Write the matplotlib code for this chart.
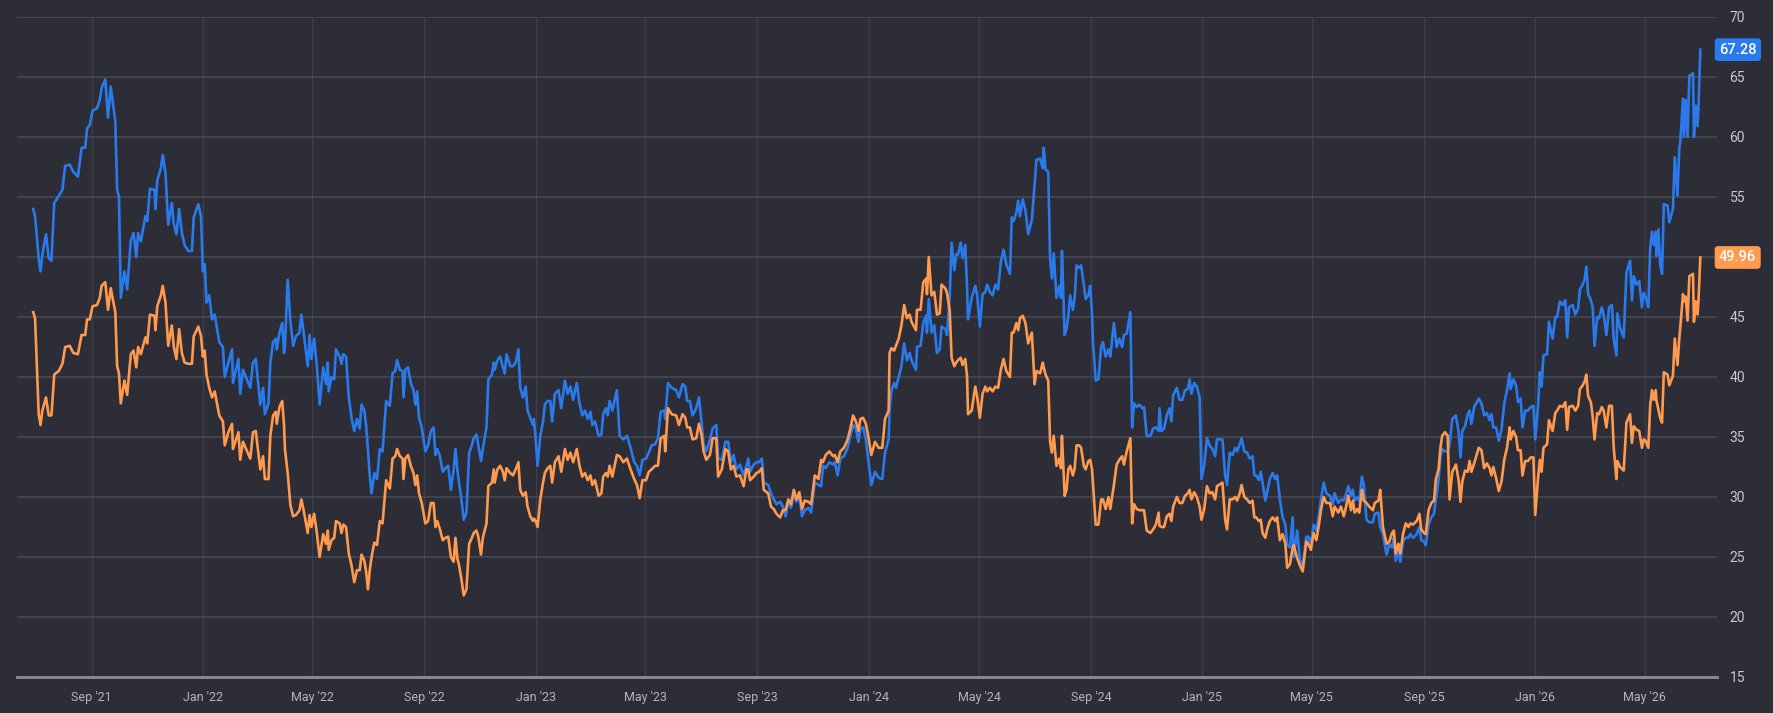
import matplotlib
matplotlib.use("Agg")
import matplotlib.pyplot as plt
import matplotlib.dates as mdates
import pandas as pd

# days counted from the first point of the chart
start = pd.Timestamp("2021-06-29")

day_offset = [
    0, 2, 6, 8, 10, 14, 17, 20, 23, 28,
    32, 35, 40, 44, 49, 53, 57, 59, 62, 65,
    70, 73, 75, 79, 82, 85, 90, 92, 94, 96,
    100, 103, 107, 110, 113, 115, 118, 123, 125, 128,
    133, 134, 136, 140, 142, 145, 148, 152, 154, 157,
    160, 163, 166, 170, 174, 176, 181, 184, 186, 188,
    190, 193, 196, 199, 204, 208, 210, 214, 218, 219,
    225, 227, 230, 238, 241, 244,
    249, 252, 254, 258, 260, 263, 266, 267, 270, 273,
    275, 276, 279, 282, 285, 288, 292, 294, 297, 301,
    303, 305, 308, 311, 314, 318, 321, 323, 324, 327,
    330, 332, 336, 338, 340, 343, 346, 349, 352, 355,
    358, 360, 363, 365, 367, 369, 371, 374, 377, 380,
    383, 387, 391, 394, 397, 399, 402, 405, 406, 408,
    411, 414, 417, 419, 421, 423, 426, 430, 433, 436,
    439, 441, 443, 446, 449, 452, 455, 458, 461, 463,
    465, 467, 470, 472, 475, 478, 481, 483, 486, 488,
    491, 493, 497, 499, 503, 505, 506, 509,
    512, 515, 517, 519, 523, 526, 529, 532, 534, 537,
    540, 542, 545, 548, 549, 551, 553, 556, 559, 561,
    564, 567, 569, 572, 576, 579, 583, 586, 589, 592,
    596, 599, 602, 605, 608, 611, 613, 616, 620, 623,
    625, 628, 630, 632, 635, 640, 643, 647, 651, 655,
    659, 662, 665, 668, 672, 675, 678, 682, 685, 688,
    692, 693, 696, 700, 705, 708, 712, 715, 717, 720,
    723, 727, 730, 733, 735, 738, 742, 745, 749, 751,
    755, 759, 762, 765, 768, 771,
    775, 779, 782, 784, 786, 790, 793, 796, 799, 801,
    806, 809, 812, 815, 819, 822, 825, 828, 831, 834,
    837, 840, 843, 846, 850, 853, 857, 861, 864, 866,
    869, 873, 877, 879, 882, 885, 889, 893, 896, 899,
    902, 905, 907, 910, 913, 916, 919, 923, 927, 931,
    934, 938, 939, 941, 944, 946, 949, 952, 955, 958,
    961, 963, 968, 969, 973, 976, 979, 980, 982, 985,
    988, 991, 994, 996, 1000, 1002, 1005, 1007, 1010, 1012,
    1014, 1017, 1019, 1022, 1024, 1025, 1029, 1033, 1035,
    1038, 1041, 1044, 1046, 1049, 1052, 1055, 1058, 1061, 1064,
    1067, 1071, 1073, 1075, 1078, 1080, 1082, 1085, 1088, 1091,
    1095, 1098, 1100, 1104, 1107, 1108, 1110, 1113, 1115, 1117,
    1119, 1122, 1125, 1127, 1128, 1131, 1133, 1135, 1137, 1140,
    1142, 1144, 1147, 1149, 1152, 1154, 1157, 1159, 1161, 1162,
    1165, 1168, 1171, 1173, 1176, 1179, 1181, 1185, 1188, 1191,
    1194, 1196, 1199, 1203, 1205, 1207, 1210, 1213, 1216, 1218,
    1221, 1225, 1228, 1231, 1234, 1235, 1237, 1240, 1243, 1246,
    1248, 1250, 1254, 1257, 1260, 1263, 1266, 1268, 1270, 1273,
    1276, 1279, 1281, 1284, 1287, 1290, 1293, 1296, 1298,
    1304, 1307, 1309, 1312, 1315, 1318, 1320, 1323, 1325, 1328,
    1331, 1334, 1337, 1339, 1341, 1344, 1346, 1348, 1351, 1353,
    1356, 1359, 1362, 1364, 1367, 1370, 1373, 1375, 1378, 1381,
    1382, 1386, 1389, 1392, 1396, 1398, 1401, 1404, 1407, 1410,
    1412, 1415, 1418, 1422, 1425, 1427, 1431, 1434, 1437, 1439,
    1442, 1445, 1447, 1449, 1452, 1454, 1457, 1459, 1462, 1465,
    1469, 1471, 1475, 1477, 1480, 1484, 1487, 1490, 1492, 1494,
    1497, 1499, 1502, 1505, 1508, 1510, 1513, 1517, 1520, 1522,
    1525, 1527, 1530, 1533, 1536, 1538, 1541, 1543, 1545, 1548,
    1551, 1553, 1556, 1560, 1563,
    1565, 1567, 1570, 1573, 1575, 1577, 1580, 1583, 1585, 1588,
    1591, 1594, 1597, 1599, 1601, 1604, 1607, 1610, 1613, 1616,
    1619, 1620, 1623, 1626, 1628, 1631, 1633, 1636, 1639, 1642,
    1645, 1647, 1650, 1652, 1654, 1656, 1660, 1662, 1666, 1669,
    1671, 1674, 1677, 1680, 1682, 1684, 1688, 1691, 1694, 1696,
    1699, 1701, 1703, 1705, 1708, 1710, 1712, 1715, 1717, 1720,
    1722, 1725, 1728, 1731, 1733, 1736, 1737, 1740, 1744, 1747,
    1751, 1753, 1755, 1758, 1761, 1764, 1766, 1768, 1771, 1773,
    1775, 1777, 1779, 1780, 1782, 1784, 1786, 1788, 1792, 1794,
    1798, 1800, 1803, 1805, 1806, 1809, 1810, 1812, 1814, 1816,
    1820, 1821, 1823, 1825, 1826, 1828,
]

blue_vals = [
    54.0, 53.4, 49.9, 48.8, 50.2, 51.9, 49.9, 49.7, 54.5, 55.1,
    55.6, 57.6, 57.7, 57.1, 56.7, 59.1, 59.1, 60.7, 61.0, 62.2,
    62.4, 63.1, 64.1, 64.8, 61.6, 64.2, 61.3, 55.6, 55.0, 46.6,
    48.8, 47.3, 51.4, 52.0, 50.0, 52.0, 51.3, 53.4, 53.0, 55.7,
    55.6, 54.0, 56.4, 57.4, 58.5, 57.0, 52.7, 54.5, 52.8, 51.9,
    54.0, 52.0, 51.0, 50.5, 50.5, 53.3, 54.4, 53.4, 48.8, 49.4,
    46.2, 46.8, 44.8, 45.2, 42.9, 42.5, 40.0, 41.2, 42.3, 39.5,
    41.5, 38.6, 40.6, 39.1, 41.2, 41.5,
    37.7, 39.1, 36.9, 37.8, 41.2, 42.9, 43.2, 42.3, 43.7, 44.5,
    42.0, 42.5, 48.1, 44.6, 42.6, 43.4, 43.7, 45.2, 43.4, 40.9,
    43.5, 41.5, 43.2, 40.9, 37.7, 40.8, 39.4, 41.2, 38.8, 40.0,
    39.8, 42.3, 41.7, 41.1, 41.9, 41.7, 38.3, 36.6, 35.5, 36.5,
    35.7, 37.7, 37.2, 36.0, 34.0, 31.8, 30.3, 32.0, 31.5, 34.0,
    33.8, 38.0, 37.6, 40.3, 40.5, 41.4, 40.6, 40.5, 38.3, 40.6,
    40.8, 39.5, 38.9, 37.7, 38.8, 36.6, 35.8, 33.8, 34.3, 35.5,
    35.8, 33.5, 34.0, 33.4, 32.1, 32.4, 32.6, 30.6, 32.3, 34.0,
    32.3, 31.2, 29.5, 28.1, 28.7, 33.7, 34.3, 34.9, 35.2, 34.3,
    33.0, 34.0, 35.8, 39.8, 40.2, 41.2, 40.6, 41.4,
    41.7, 40.8, 40.3, 41.9, 40.9, 40.9, 41.2, 42.3, 39.1, 38.3,
    39.2, 37.2, 36.6, 36.0, 36.5, 34.8, 32.6, 35.1, 36.3, 37.7,
    38.0, 38.0, 36.3, 38.6, 38.9, 37.4, 39.7, 38.6, 39.2, 38.1,
    39.5, 37.8, 36.8, 37.2, 36.5, 37.1, 36.0, 36.3, 35.1, 35.2,
    36.9, 37.4, 36.8, 38.0, 37.2, 38.9, 35.1, 34.8, 35.1, 34.1,
    32.9, 32.6, 31.8, 33.1, 33.2, 33.7, 34.3, 34.4, 34.9, 37.1,
    37.2, 36.5, 39.5, 39.1, 38.9, 38.3, 39.4, 39.2, 38.0, 38.0,
    36.8, 37.4, 38.3, 36.1, 34.4, 33.8, 34.8, 35.7, 36.0, 33.2,
    33.1, 34.6, 34.6, 32.9, 33.5, 32.3,
    32.7, 31.8, 32.6, 33.2, 32.1, 32.7, 32.9, 32.9, 33.2, 31.2,
    31.0, 30.3, 29.8, 29.4, 29.6, 29.2, 28.4, 29.6, 29.1, 30.3,
    29.6, 30.2, 28.4, 28.9, 29.1, 28.7, 31.2, 31.0, 30.9, 32.6,
    32.4, 32.9, 32.7, 32.9, 31.8, 33.2, 33.4, 34.1, 35.1, 36.0,
    35.7, 34.6, 35.7, 35.8, 34.8, 32.9, 31.0, 32.1, 31.6, 31.5,
    33.7, 34.8, 37.2, 38.8, 39.5, 39.1, 40.0, 40.9, 42.8, 41.4,
    42.0, 41.4, 40.6, 42.5, 42.6, 44.5, 45.1, 43.7, 46.5, 43.7,
    44.3, 42.0, 42.3, 44.2, 44.0, 43.5, 46.8, 51.2, 48.9, 50.2,
    50.2, 51.2, 49.9, 51.0, 47.4, 44.8, 46.6, 47.6, 46.8,
    44.2, 46.9, 47.1, 47.7, 47.1, 46.8, 47.7, 47.3, 49.6, 50.6,
    49.4, 48.6, 53.3, 53.0, 53.7, 54.7, 53.4, 54.8, 53.9, 51.9,
    53.1, 56.0, 58.1, 58.2, 57.4, 59.1, 57.3, 57.1, 49.9, 48.2,
    50.3, 46.6, 47.6, 46.6, 50.5, 43.5, 44.0, 45.1, 46.8, 45.6,
    46.6, 49.3, 49.1, 49.3, 47.7, 46.5, 46.8, 47.6, 45.2, 43.0,
    39.7, 39.8, 42.5, 42.9, 41.7, 42.3, 41.7, 44.5, 42.5, 43.2,
    42.5, 43.5, 43.6, 45.4, 35.8, 37.8, 37.5, 37.7, 37.4, 37.5,
    35.1, 35.1, 35.7, 35.8, 35.5, 37.4, 35.5, 35.7, 36.8, 37.4,
    36.3, 38.5, 39.1, 38.1, 38.1, 38.9, 39.0, 39.8, 38.6, 39.5,
    39.2, 38.3, 31.5, 32.6, 34.9, 34.3, 34.0, 33.4, 34.8,
    34.8, 31.8, 31.0, 33.7, 33.5, 34.1, 33.8, 34.4, 34.9, 33.8,
    33.7, 33.2, 33.4, 31.8, 31.8, 31.4, 32.1, 31.2, 29.7, 30.4,
    31.5, 32.0, 31.5, 31.8, 29.8, 28.3, 27.7, 26.0, 25.8, 28.3,
    25.0, 27.2, 24.7, 24.3, 26.7, 26.7, 26.1, 27.7, 27.2, 28.6,
    29.8, 31.2, 30.3, 30.1, 29.4, 30.3, 29.5, 29.8, 29.7, 30.1,
    30.9, 30.1, 30.6, 29.7, 30.0, 29.7, 31.7, 31.0, 28.1, 27.9,
    27.9, 28.6, 28.7, 27.5, 26.9, 25.2, 26.1, 25.8, 26.6, 24.7,
    25.5, 24.6, 26.3, 26.6, 26.6, 26.9, 26.6, 26.9, 27.5, 26.4,
    26.3, 26.0, 27.7, 28.3, 28.6, 29.8, 31.4, 33.3, 34.0, 33.8,
    33.8, 34.3, 36.5, 36.8, 35.4,
    33.3, 35.5, 35.9, 36.9, 37.2, 36.1, 37.5, 37.9, 38.2, 37.8,
    36.8, 37.0, 36.4, 36.9, 35.8, 35.8, 34.7, 35.6, 37.8, 38.9,
    40.3, 39.0, 39.8, 39.3, 37.9, 38.2, 35.8, 37.2, 37.2, 37.5,
    37.6, 34.8, 37.5, 40.4, 39.2, 41.8, 41.9, 44.6, 43.2, 45.0,
    45.0, 46.3, 46.0, 46.4, 43.3, 45.8, 46.0, 45.2, 45.7, 47.3,
    47.7, 48.1, 49.2, 46.9, 46.4, 45.8, 42.6, 45.0, 44.9, 45.8,
    45.2, 43.5, 45.8, 46.0, 43.2, 41.8, 45.3, 44.1, 43.3, 48.7,
    49.7, 46.4, 48.4, 47.7, 48.0, 45.8, 47.0, 46.7, 45.8, 50.7,
    52.1, 51.0, 52.1, 50.1, 52.3, 49.4, 48.6, 54.4, 54.3, 52.9,
    54.0, 58.3, 55.1, 59.2, 59.5, 63.2, 60.0, 63.1, 60.0, 65.1,
    65.3, 60.0, 62.6, 60.9, 62.6, 67.28,
]

orange_vals = [
    45.4, 44.9, 36.9, 36.0, 37.2, 38.3, 36.8, 36.8, 40.2, 40.5,
    41.1, 42.5, 42.6, 42.0, 41.9, 43.5, 43.5, 44.8, 44.8, 45.9,
    46.0, 46.6, 47.6, 47.9, 45.6, 47.4, 45.4, 40.9, 40.3, 37.8,
    39.7, 38.5, 41.9, 42.2, 40.8, 42.5, 41.9, 43.3, 42.8, 45.2,
    45.1, 43.9, 45.9, 46.8, 47.6, 46.2, 42.6, 44.3, 42.6, 41.5,
    44.0, 42.0, 41.2, 41.1, 41.1, 43.4, 44.2, 43.4, 41.7, 42.2,
    40.2, 39.1, 38.3, 38.8, 36.8, 36.3, 34.3, 35.4, 36.1, 34.0,
    35.4, 33.1, 34.6, 33.2, 35.4, 35.5,
    32.3, 33.4, 31.5, 31.5, 35.1, 36.8, 37.1, 36.1, 37.5, 38.0,
    36.0, 34.0, 32.0, 29.3, 28.4, 28.5, 28.9, 29.8, 28.7, 27.0,
    28.5, 27.5, 28.6, 27.0, 25.0, 26.9, 26.1, 27.2, 25.6, 26.4,
    26.6, 28.0, 27.8, 27.0, 27.7, 27.5, 25.3, 24.3, 22.9, 23.9,
    23.9, 25.2, 24.7, 23.8, 22.3, 23.9, 25.0, 26.2, 26.0, 28.0,
    27.8, 31.4, 30.7, 33.2, 33.4, 34.0, 33.4, 33.2, 31.5, 33.2,
    33.5, 32.6, 32.0, 31.0, 31.8, 30.3, 29.5, 27.8, 28.0, 29.5,
    29.5, 27.5, 28.0, 27.3, 26.4, 26.6, 26.7, 25.0, 24.6, 26.6,
    24.9, 24.3, 22.9, 21.8, 22.3, 26.1, 26.6, 27.0, 27.2, 26.7,
    25.2, 26.6, 27.8, 30.9, 31.2, 32.3, 31.2, 32.3,
    32.6, 32.1, 31.4, 32.4, 32.0, 31.8, 32.3, 32.9, 30.6, 30.1,
    30.4, 29.2, 28.4, 28.0, 28.2, 28.0, 27.5, 29.8, 31.2, 32.0,
    32.4, 32.6, 31.2, 32.9, 33.4, 32.1, 34.0, 33.1, 33.7, 32.9,
    34.0, 32.6, 31.7, 32.0, 31.4, 31.8, 31.0, 31.4, 30.1, 30.3,
    31.7, 32.0, 31.7, 32.6, 31.7, 33.5, 33.4, 32.9, 33.2, 32.3,
    31.5, 31.0, 29.9, 31.4, 31.4, 32.1, 32.3, 32.6, 32.6, 34.9,
    35.1, 33.8, 37.4, 36.9, 36.8, 36.0, 36.9, 36.6, 35.8, 35.8,
    34.8, 34.9, 36.1, 35.1, 33.8, 33.1, 33.5, 34.9, 34.9, 31.7,
    32.3, 34.0, 33.8, 32.3, 32.6, 31.7,
    31.8, 30.9, 32.3, 32.3, 31.4, 31.7, 32.0, 32.1, 32.4, 30.6,
    30.3, 29.2, 29.0, 28.6, 28.3, 28.9, 28.9, 29.8, 29.4, 30.6,
    29.8, 30.4, 29.0, 29.7, 29.6, 29.4, 31.8, 31.5, 33.1, 32.9,
    33.5, 33.8, 33.4, 33.5, 32.9, 33.8, 34.1, 34.8, 35.7, 36.8,
    36.3, 35.5, 36.5, 36.6, 36.1, 34.9, 33.5, 34.6, 34.1, 34.1,
    36.5, 37.2, 42.0, 42.4, 42.2, 42.6, 43.2, 44.3, 46.0, 44.9,
    45.2, 44.6, 43.9, 45.6, 45.6, 47.9, 48.2, 46.9, 50.0, 46.8,
    47.1, 45.2, 45.3, 47.7, 47.4, 47.0, 45.5, 41.6, 40.9, 41.2,
    41.4, 41.6, 41.0, 41.5, 40.0, 36.9, 37.2, 39.2, 38.4,
    36.6, 38.6, 39.2, 38.8, 39.1, 38.8, 39.2, 39.1, 40.6, 41.5,
    40.5, 40.0, 43.7, 43.7, 44.5, 43.9, 44.9, 45.1, 44.5, 42.8,
    43.7, 39.4, 40.5, 40.3, 41.2, 40.8, 40.2, 39.7, 34.6, 33.7,
    35.1, 32.6, 33.2, 32.4, 35.1, 30.1, 30.6, 32.3, 32.6, 31.8,
    32.4, 34.3, 34.3, 34.1, 32.6, 32.3, 33.0, 33.1, 32.3, 31.2,
    27.7, 27.7, 29.8, 29.8, 29.0, 30.0, 29.0, 31.0, 32.7, 33.1,
    33.4, 32.7, 33.8, 34.9, 27.8, 29.4, 29.0, 28.9, 28.9, 28.9,
    27.2, 27.0, 27.3, 27.7, 28.7, 27.6, 27.5, 27.5, 28.4, 28.6,
    28.0, 29.2, 30.0, 29.5, 29.5, 30.1, 30.3, 30.6, 29.8, 30.4,
    30.0, 29.2, 28.1, 29.0, 30.9, 30.3, 30.4, 29.8, 30.9,
    31.2, 28.1, 27.3, 29.8, 29.8, 30.0, 29.7, 30.3, 31.0, 30.0,
    29.8, 29.5, 29.7, 28.3, 28.3, 28.0, 28.1, 27.0, 26.6, 27.3,
    28.0, 28.3, 28.0, 28.3, 26.4, 26.9, 26.1, 24.1, 24.4, 25.8,
    26.0, 24.9, 24.3, 23.8, 26.3, 26.1, 25.6, 27.0, 26.4, 27.8,
    28.9, 30.0, 29.5, 29.5, 28.4, 29.2, 28.7, 29.2, 28.4, 29.0,
    30.1, 28.9, 29.7, 28.7, 29.0, 28.7, 30.6, 29.7, 29.5, 29.2,
    28.9, 29.5, 29.7, 30.6, 27.5, 26.1, 26.3, 27.0, 27.2, 25.3,
    26.1, 25.3, 26.9, 27.8, 27.5, 27.8, 27.7, 28.0, 28.6, 27.3,
    27.0, 26.9, 28.9, 29.5, 29.7, 31.5, 32.3, 34.1, 35.1, 35.4,
    35.1, 29.8, 32.1, 32.7, 31.4,
    29.6, 31.3, 32.2, 32.1, 33.0, 32.1, 32.8, 33.6, 34.1, 33.9,
    32.4, 32.8, 32.4, 31.8, 32.5, 31.6, 30.5, 31.3, 33.1, 34.1,
    35.8, 34.8, 35.5, 35.0, 33.9, 33.9, 31.8, 33.0, 33.0, 33.3,
    33.3, 28.5, 31.5, 33.1, 32.1, 34.1, 34.4, 36.4, 35.5, 37.0,
    37.2, 37.6, 37.5, 37.9, 35.6, 37.5, 37.6, 37.2, 37.6, 39.0,
    39.3, 39.6, 40.2, 38.4, 37.9, 36.7, 34.8, 37.0, 36.9, 37.5,
    37.2, 35.8, 37.6, 37.6, 34.2, 31.5, 33.0, 32.5, 32.2, 36.2,
    36.9, 34.5, 35.9, 35.6, 35.5, 34.1, 34.8, 34.7, 34.1, 37.6,
    38.9, 38.1, 38.9, 38.0, 37.3, 36.6, 36.2, 40.4, 40.2, 39.3,
    40.1, 43.2, 41.0, 43.3, 44.1, 46.9, 46.3, 46.7, 44.7, 48.4,
    48.6, 44.6, 46.3, 45.2, 46.4, 49.96,
]

y_ticks = [15, 20, 25, 30, 35, 40, 45, 50, 55, 60, 65, 70]
# the 50 label sits under the orange last-value tag in the original
y_labels = ["15", "20", "25", "30", "35", "40", "45", "", "55", "60", "65", "70"]

bg = "#2c2d36"
blue = "#2a7aec"
orange = "#ff9a4e"

plt.rcParams["font.family"] = ["Roboto", "DejaVu Sans"]

dates = start + pd.to_timedelta(day_offset, unit="D")

fig = plt.figure(figsize=(17.74, 7.13), dpi=100, facecolor=bg)
ax = fig.add_axes([17 / 1774, 36 / 713, 1700 / 1774, 660 / 713])
ax.set_facecolor(bg)
ax.set_axisbelow(True)

ax.plot(dates, blue_vals, color=blue, lw=1.9, zorder=3)
ax.plot(dates, orange_vals, color=orange, lw=1.9, zorder=4)

ax.set_ylim(15, 70)
ax.set_xlim(start - pd.Timedelta(days=17.8), start + pd.Timedelta(days=1846.3))
ax.set_yticks(y_ticks)
ax.set_yticklabels(y_labels)
ax.yaxis.tick_right()
ax.xaxis.set_major_locator(mdates.MonthLocator(bymonth=[1, 5, 9]))
ax.xaxis.set_major_formatter(mdates.DateFormatter("%b '%y"))

ax.tick_params(axis="y", length=0, pad=9, labelsize=10, labelcolor="#c8c9cf")
ax.tick_params(axis="x", length=0, pad=10, labelsize=9, labelcolor="#b4b5bc")
ax.grid(axis="y", color="#45464f", lw=1.3)
ax.grid(axis="x", color="#3d3e47", lw=1.0)

for side in ["top", "left", "right"]:
    ax.spines[side].set_visible(False)
ax.spines["bottom"].set_color("#8c8d95")
ax.spines["bottom"].set_linewidth(2)

# last value tags on the right edge
for val, col in [(blue_vals[-1], blue), (orange_vals[-1], orange)]:
    ax.annotate(f"{val:.2f}", xy=(1, val), xycoords=("axes fraction", "data"),
                xytext=(1.5, 0), textcoords="offset points", ha="left", va="center",
                color="white", fontsize=10.5, fontweight="medium",
                bbox=dict(boxstyle="round,pad=0.3,rounding_size=0.25", fc=col, ec="none"),
                zorder=10, annotation_clip=False)

fig.savefig("out.png", dpi=100, facecolor=bg)
